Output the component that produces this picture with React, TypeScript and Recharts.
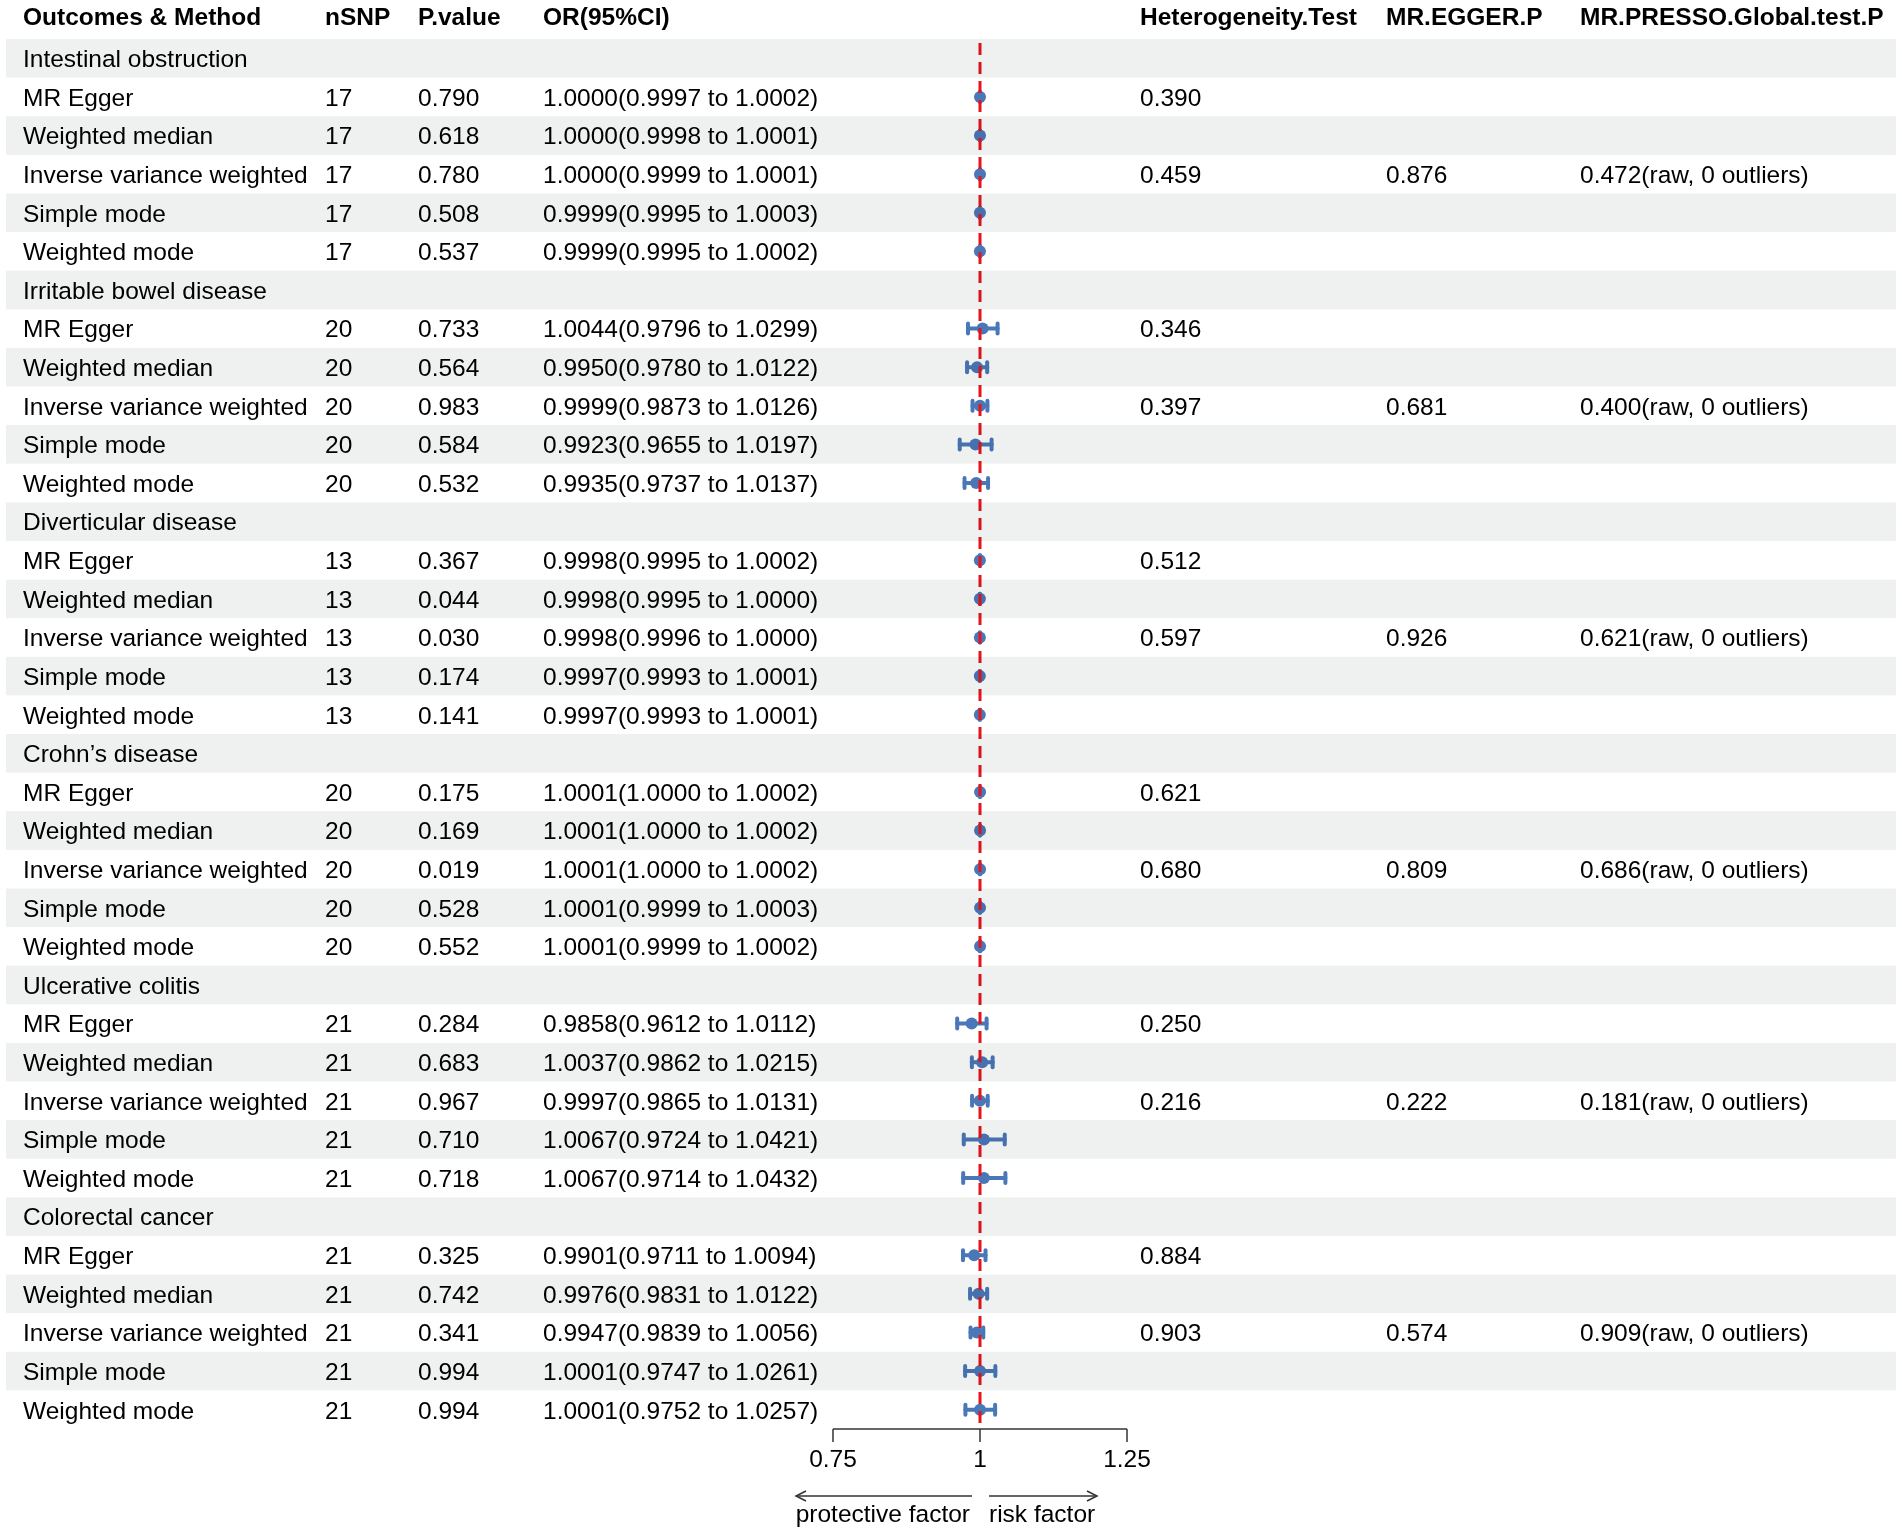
import React from 'react'
import { ComposedChart, Scatter, ErrorBar, XAxis, YAxis, ReferenceLine } from 'recharts'

// ---- data ----
const outcomes = [
    'Intestinal obstruction',
    'Irritable bowel disease',
    'Diverticular disease',
    'Crohn\u2019s disease',
    'Ulcerative colitis',
    'Colorectal cancer',
]

const methods = ['MR Egger', 'Weighted median', 'Inverse variance weighted', 'Simple mode', 'Weighted mode']

const nSNP = [17, 20, 13, 20, 21, 21]

const pValues = [
    [0.79, 0.618, 0.78, 0.508, 0.537],
    [0.733, 0.564, 0.983, 0.584, 0.532],
    [0.367, 0.044, 0.03, 0.174, 0.141],
    [0.175, 0.169, 0.019, 0.528, 0.552],
    [0.284, 0.683, 0.967, 0.71, 0.718],
    [0.325, 0.742, 0.341, 0.994, 0.994],
]

// [OR, lower, upper]
const orValues = [
    [[1.0, 0.9997, 1.0002], [1.0, 0.9998, 1.0001], [1.0, 0.9999, 1.0001], [0.9999, 0.9995, 1.0003], [0.9999, 0.9995, 1.0002]],
    [[1.0044, 0.9796, 1.0299], [0.995, 0.978, 1.0122], [0.9999, 0.9873, 1.0126], [0.9923, 0.9655, 1.0197], [0.9935, 0.9737, 1.0137]],
    [[0.9998, 0.9995, 1.0002], [0.9998, 0.9995, 1.0], [0.9998, 0.9996, 1.0], [0.9997, 0.9993, 1.0001], [0.9997, 0.9993, 1.0001]],
    [[1.0001, 1.0, 1.0002], [1.0001, 1.0, 1.0002], [1.0001, 1.0, 1.0002], [1.0001, 0.9999, 1.0003], [1.0001, 0.9999, 1.0002]],
    [[0.9858, 0.9612, 1.0112], [1.0037, 0.9862, 1.0215], [0.9997, 0.9865, 1.0131], [1.0067, 0.9724, 1.0421], [1.0067, 0.9714, 1.0432]],
    [[0.9901, 0.9711, 1.0094], [0.9976, 0.9831, 1.0122], [0.9947, 0.9839, 1.0056], [1.0001, 0.9747, 1.0261], [1.0001, 0.9752, 1.0257]],
]

// heterogeneity test p for MR Egger and IVW rows
const heterogeneity = [
    [0.39, 0.459],
    [0.346, 0.397],
    [0.512, 0.597],
    [0.621, 0.68],
    [0.25, 0.216],
    [0.884, 0.903],
]

const eggerP = [0.876, 0.681, 0.926, 0.809, 0.222, 0.574]
const pressoP = [0.472, 0.4, 0.621, 0.686, 0.181, 0.909]

const xTicks = [0.75, 1, 1.25]

const headers = ['Outcomes & Method', 'nSNP', 'P.value', 'OR(95%CI)', 'Heterogeneity.Test', 'MR.EGGER.P', 'MR.PRESSO.Global.test.P']

// ---- layout ----
const W = 1902
const H = 1537
const PLOT_TOP = 39
const PLOT_BOTTOM = 1429
const ROWS = outcomes.length * (methods.length + 1)
const ROW_H = (PLOT_BOTTOM - PLOT_TOP) / ROWS
const COL_X = [23, 325, 418, 543, 1140, 1386, 1580]
const FONT = '"Liberation Sans", Arial, sans-serif'
const FS = 24.5
const BLUE = '#4a77b8'

type Row = {
    row: number
    cells: string[]
    or?: number
    err?: [number, number]
}

const rows: Row[] = []
outcomes.forEach((name, g) => {
    rows.push({ row: rows.length, cells: [name] })
    methods.forEach((m, k) => {
        const [or, lo, hi] = orValues[g][k]
        const het = k === 0 ? heterogeneity[g][0] : k === 2 ? heterogeneity[g][1] : null
        rows.push({
            row: rows.length,
            cells: [
                m,
                String(nSNP[g]),
                pValues[g][k].toFixed(3),
                `${or.toFixed(4)}(${lo.toFixed(4)} to ${hi.toFixed(4)})`,
                het != null ? het.toFixed(3) : '',
                k === 2 ? eggerP[g].toFixed(3) : '',
                k === 2 ? `${pressoP[g].toFixed(3)}(raw, 0 outliers)` : '',
            ],
            or,
            err: [or - lo, hi - or],
        })
    })
})

const points = rows.filter((r) => r.or != null)

// each y tick draws the whole table row; the band is multiplied so marks underneath stay visible
function RowTick(props: any) {
    const { y, payload } = props
    const r = rows[Math.round(Number(payload?.value))]
    if (!r) return <g />
    return (
        <g>
            {r.row % 2 === 0 && (
                <rect
                    x={6}
                    y={y - ROW_H / 2}
                    width={1890}
                    height={ROW_H}
                    fill="#eff1f1"
                    style={{ mixBlendMode: 'multiply' }}
                />
            )}
            {r.row === 0 &&
                headers.map((h, i) => (
                    <text key={h} x={COL_X[i]} y={y - 42} dy="0.36em" fontSize={FS} fontWeight="bold" fontFamily={FONT} fill="#000">
                        {h}
                    </text>
                ))}
            {r.cells.map((c, i) =>
                c ? (
                    <text key={i} x={COL_X[i]} y={y} dy="0.36em" fontSize={FS} fontFamily={FONT} fill="#000">
                        {c}
                    </text>
                ) : null
            )}
        </g>
    )
}

function Arrows(props: any) {
    const vb = props.viewBox
    if (!vb) return null
    const cx = vb.x + vb.width / 2
    const ay = vb.y + 67
    const ty = vb.y + 93
    return (
        <g stroke="#333" strokeWidth={1.5} fill="none">
            <line x1={cx - 184} y1={ay} x2={cx - 8} y2={ay} />
            <polyline points={`${cx - 174},${ay - 5} ${cx - 184},${ay} ${cx - 174},${ay + 5}`} />
            <line x1={cx + 9} y1={ay} x2={cx + 117} y2={ay} />
            <polyline points={`${cx + 107},${ay - 5} ${cx + 117},${ay} ${cx + 107},${ay + 5}`} />
            <text x={cx - 10} y={ty} textAnchor="end" fontSize={FS} fontFamily={FONT} fill="#000" stroke="none">
                protective factor
            </text>
            <text x={cx + 9} y={ty} fontSize={FS} fontFamily={FONT} fill="#000" stroke="none">
                risk factor
            </text>
        </g>
    )
}

export default function App() {
    return (
        <div style={{ position: 'absolute', left: 0, top: 0, width: W, height: H, background: '#fff' }}>
            <ComposedChart
                width={W}
                height={H}
                data={points}
                margin={{ top: PLOT_TOP, right: W - 1127, bottom: H - PLOT_BOTTOM - 60, left: 832 }}
                style={{ fontFamily: FONT }}
            >
                <YAxis
                    type="number"
                    dataKey="row"
                    domain={[-0.5, ROWS - 0.5]}
                    ticks={rows.map((r) => r.row)}
                    interval={0}
                    reversed
                    width={1}
                    axisLine={false}
                    tickLine={false}
                    tick={(p: any) => <RowTick {...p} />}
                />
                <XAxis
                    type="number"
                    dataKey="or"
                    domain={[0.75, 1.25]}
                    ticks={xTicks}
                    interval={0}
                    height={60}
                    tickSize={13}
                    tickMargin={8}
                    stroke="#333"
                    strokeWidth={1.5}
                    tick={{ fontSize: FS, fill: '#000', fontFamily: FONT }}
                    label={{ content: <Arrows /> }}
                />
                <Scatter
                    dataKey="or"
                    fill={BLUE}
                    isAnimationActive={false}
                    shape={(p: any) => <circle cx={p.cx} cy={p.cy} r={6} fill={BLUE} />}
                >
                    <ErrorBar
                        dataKey="err"
                        direction="x"
                        width={5}
                        stroke={BLUE}
                        strokeWidth={4}
                        strokeLinecap="round"
                        isAnimationActive={false}
                    />
                </Scatter>
                <ReferenceLine
                    x={1}
                    stroke="#e8141c"
                    strokeWidth={3}
                    strokeDasharray="12 7"
                    strokeDashoffset={-6}
                    zIndex={900}
                />
            </ComposedChart>
        </div>
    )
}
